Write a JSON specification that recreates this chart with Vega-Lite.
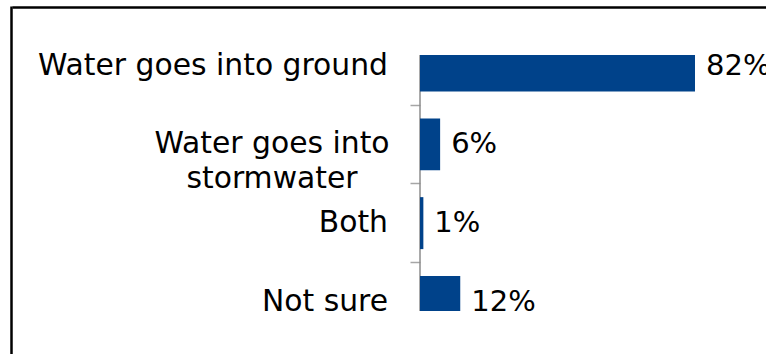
{
  "$schema": "https://vega.github.io/schema/vega-lite/v6.json",
  "width": 754,
  "height": 256,
  "autosize": "none",
  "padding": {"left": 12, "top": 55, "right": 0, "bottom": 43},
  "background": "white",
  "config": {"view": {"stroke": null}, "font": "DejaVu Sans"},
  "data": {
    "values": [
      {"response": "Water goes into ground", "label": "Water goes into ground", "share": 0.82},
      {"response": "Water goes into stormwater", "label": "Water goes into\nstormwater", "share": 0.06},
      {"response": "Both", "label": "Both", "share": 0.01},
      {"response": "Not sure", "label": "Not sure", "share": 0.12}
    ]
  },
  "resolve": {"scale": {"y": "independent"}, "axis": {"y": "independent"}},
  "layer": [
    {
      "data": {"values": [{}]},
      "mark": {"type": "rule", "clip": true, "color": "#8c8c8c", "strokeWidth": 1.5},
      "encoding": {
        "x": {
          "datum": 0,
          "type": "quantitative",
          "scale": {"domain": [-1.2166, 1.0317], "nice": false, "zero": false},
          "axis": {"orient": "top", "offset": 48, "domain": true, "domainColor": "black", "domainWidth": 2.5, "ticks": false, "labels": false, "grid": false, "title": null}
        },
        "y": {
          "datum": 0,
          "type": "quantitative",
          "scale": {"domain": [0, 1], "range": [-49, 299], "nice": false, "zero": false},
          "axis": {"orient": "left", "offset": 1, "domain": true, "domainColor": "black", "domainWidth": 2.5, "ticks": false, "labels": false, "grid": false, "title": null}
        },
        "y2": {"datum": 1}
      }
    },
    {
      "mark": {"type": "bar", "clip": true, "color": "#00428a", "height": {"band": 0.66}},
      "encoding": {
        "y": {
          "field": "response",
          "type": "nominal",
          "scale": {"domain": ["Water goes into ground", "Water goes into stormwater", "Both", "Not sure"], "range": [-28.75, 286.25], "paddingInner": 0, "paddingOuter": 0},
          "axis": {"orient": "left", "offset": -408, "values": ["Water goes into stormwater", "Both", "Not sure"], "bandPosition": 0, "labels": false, "domain": false, "ticks": true, "tickSize": 10, "tickColor": "#a6a6a6", "tickWidth": 1.5, "grid": false, "title": null}
        },
        "x": {"field": "share", "type": "quantitative"}
      }
    },
    {
      "mark": {"type": "text", "align": "left", "baseline": "middle", "dx": 11, "fontSize": 29, "color": "black"},
      "encoding": {
        "y": {
          "field": "response",
          "type": "nominal",
          "scale": {"domain": ["Water goes into ground", "Water goes into stormwater", "Both", "Not sure"], "range": [-28.75, 286.25], "paddingInner": 0, "paddingOuter": 0},
          "axis": null
        },
        "x": {"field": "share", "type": "quantitative"},
        "text": {"field": "share", "type": "quantitative", "format": ".0%"}
      }
    },
    {
      "transform": [{"filter": "datum.response !== 'Water goes into stormwater'"}],
      "mark": {"type": "text", "align": "right", "baseline": "middle", "dx": -32, "fontSize": 29.8, "color": "black"},
      "encoding": {
        "y": {
          "field": "response",
          "type": "nominal",
          "scale": {"domain": ["Water goes into ground", "Water goes into stormwater", "Both", "Not sure"], "range": [-28.75, 286.25], "paddingInner": 0, "paddingOuter": 0},
          "axis": null
        },
        "x": {"datum": 0, "type": "quantitative"},
        "text": {"field": "label"}
      }
    },
    {
      "transform": [{"filter": "datum.response === 'Water goes into stormwater'"}],
      "mark": {"type": "text", "align": "center", "baseline": "middle", "dx": -148, "fontSize": 29.8, "lineHeight": 35, "lineBreak": "\n", "color": "black"},
      "encoding": {
        "y": {
          "field": "response",
          "type": "nominal",
          "scale": {"domain": ["Water goes into ground", "Water goes into stormwater", "Both", "Not sure"], "range": [-28.75, 286.25], "paddingInner": 0, "paddingOuter": 0},
          "axis": null
        },
        "x": {"datum": 0, "type": "quantitative"},
        "text": {"field": "label"}
      }
    }
  ]
}
